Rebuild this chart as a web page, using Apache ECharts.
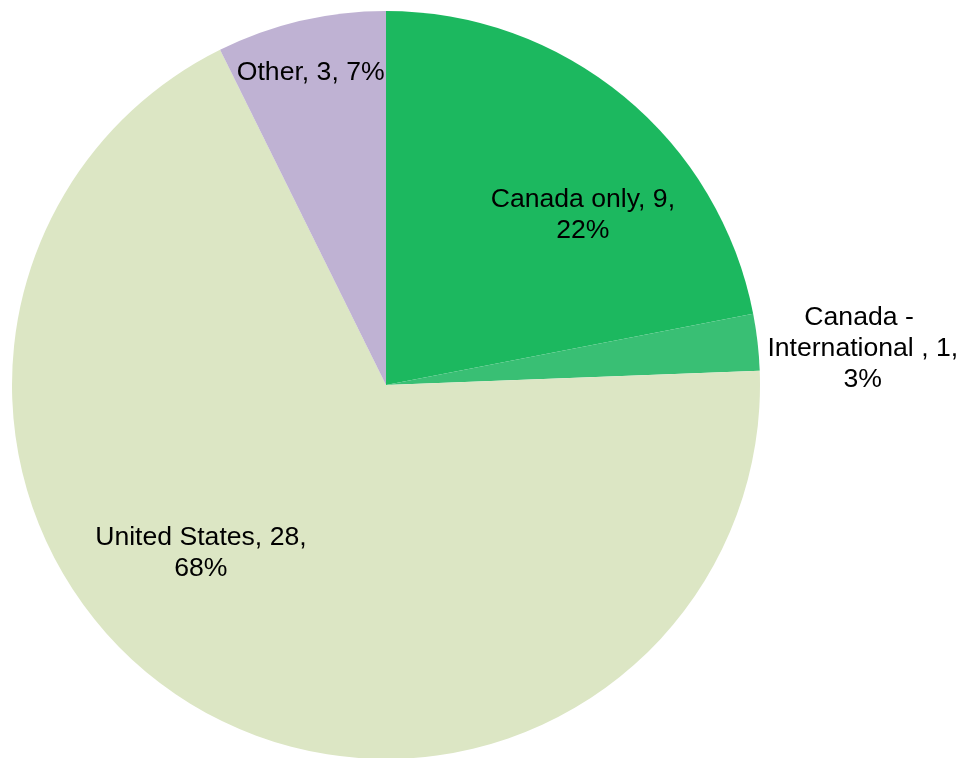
<!DOCTYPE html>
<html>
<head>
<meta charset="utf-8">
<script src="https://cdn.jsdelivr.net/npm/echarts@6/dist/echarts.min.js"></script>
<style>
html,body{margin:0;padding:0;background:#fff;}
#chart{width:959px;height:758px;}
</style>
</head>
<body>
<div id="chart"></div>
<script>
// Data
var categories = ['Canada only', 'Canada - \nInternational ', 'United States', 'Other'];
var values = [9, 1, 28, 3];
var percentLabels = ['22%', '3%', '68%', '7%'];

// Styling (not data)
var colors = ['#1cb85f', '#39bf74', '#dce6c4', '#bfb2d3'];
var labelTemplates = [
  '{b}, {c},\n{p}',
  '{b}, {c},\n{p}',
  '{b}, {c},\n{p}',
  '{b}, {c}, {p}'
];
var labelShift = [[76, -23], [288, -15], [-88, 5], [-32, -127]];

var chart = echarts.init(document.getElementById('chart'), null, {renderer: 'canvas'});
var seriesData = categories.map(function (name, i) {
  return {
    name: name,
    value: values[i],
    itemStyle: {color: colors[i]}
  };
});

chart.setOption({
  animation: false,
  backgroundColor: '#ffffff',
  series: [{
    type: 'pie',
    center: [386, 385],
    radius: 374,
    startAngle: 90,
    clockwise: true,
    avoidLabelOverlap: false,
    itemStyle: {borderWidth: 0},
    label: {
      show: true,
      position: 'inside',
      color: '#000',
      fontFamily: 'Liberation Sans, Arial, sans-serif',
      fontSize: 26.6,
      lineHeight: 31,
      align: 'center',
      formatter: function (p) {
        return labelTemplates[p.dataIndex]
          .replace('{b}', p.name)
          .replace('{c}', p.value)
          .replace('{p}', percentLabels[p.dataIndex]);
      }
    },
    labelLine: {show: false},
    labelLayout: function (params) {
      var s = labelShift[params.dataIndex];
      return {dx: s[0], dy: s[1]};
    },
    emphasis: {disabled: true},
    data: seriesData
  }]
});
</script>
</body>
</html>
